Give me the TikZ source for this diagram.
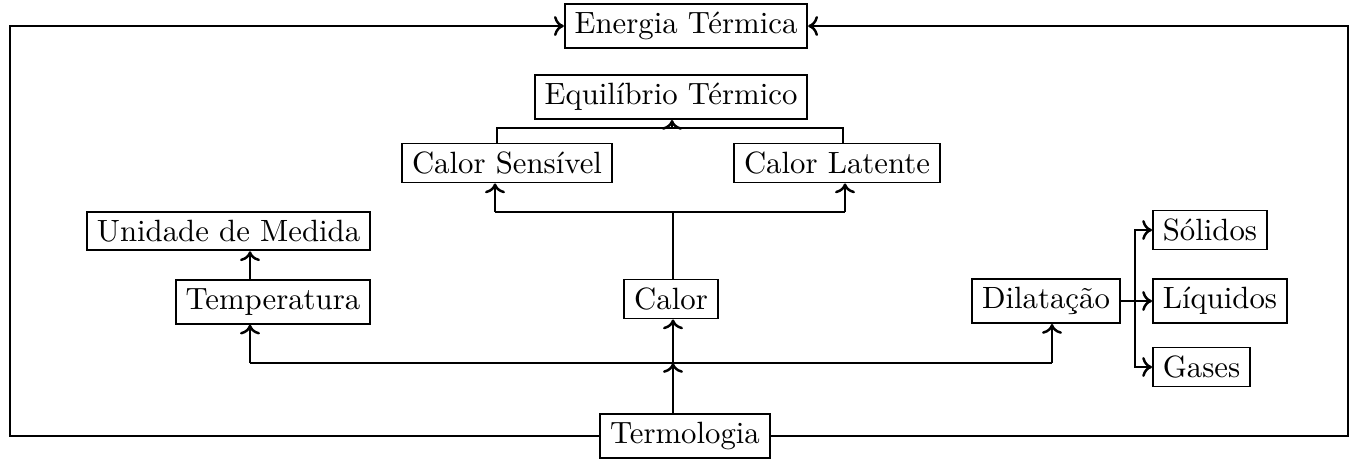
\documentclass[tikz,border=0pt]{standalone}
\usepackage{fontspec}
\usepackage{tikz}
\usetikzlibrary{
	arrows.meta,
	calc,
	positioning
}

\begin{document}
\begin{tikzpicture}[x=0.325pt, y=-0.325pt,
		box/.style={draw, line width=0.6pt, inner xsep=3.2pt, inner ysep=2.7pt},
		link/.style={line width=0.8pt},
		>={To[length=3.2pt, width=6.5pt]}]
		\useasboundingbox (0,0) rectangle (1357,459);
		
		% caixas
		\node[box] (energia) at (686,26) {Energia Térmica};
		\node[box] (equilibrio) at (671,97) {Equilíbrio Térmico};
		\node[box] (sensivel) at (507,163) {Calor Sensível};
		\node[box] (latente) at (837,163) {Calor Latente};
		\node[box, anchor=east] (unidade) at (371,231) {Unidade de Medida};
		\node[box, anchor=east] (temperatura) at (371,302) {Temperatura};
		\node[box] (calor) at (671,299) {Calor};
		\node[box] (dilatacao) at (1046,301) {Dilatação};
		\node[box, anchor=west] (solidos) at (1152,230) {Sólidos};
		\node[box, anchor=west] (liquidos) at (1152,301) {Líquidos};
		\node[box, anchor=west] (gases) at (1152,367) {Gases};
		\node[box] (termologia) at (685,436) {Termologia};
		
		% pontos de ligação
		\coordinate (jT) at (250,363);
		\coordinate (jC) at (673,363);
		\coordinate (jD) at (1052,363);
		\coordinate (aS) at (495,212);
		\coordinate (aL) at (845,212);
		\coordinate (jS) at (673,212);
		\coordinate (bS) at (497,128);
		\coordinate (bL) at (843,128);
		\coordinate (jE) at (672,128);
		\coordinate (jL) at (1135,301);
		\coordinate (cantoA) at (10,0);
		\coordinate (cantoB) at (1348,0);
		
		% Termologia -> Temperatura, Calor, Dilatação
		\draw[link, ->] (termologia.north -| jC) -- (jC);
		\draw[link, ->] (jC) -- (jC |- calor.south);
		\draw[link] (jT) -- (jD);
		\draw[link, ->] (jT) -- (jT |- temperatura.south);
		\draw[link, ->] (jD) -- (jD |- dilatacao.south);
		\draw[link, ->] (jT |- temperatura.north) -- (jT |- unidade.south);
		
		% Calor -> Sensível, Latente -> Equilíbrio
		\draw[link] (calor.north -| jS) -- (jS);
		\draw[link] (aS) -- (aL);
		\draw[link, ->] (aS) -- (aS |- sensivel.south);
		\draw[link, ->] (aL) -- (aL |- latente.south);
		\draw[link] (bS |- sensivel.north) -- (bS) -- (bL) -- (bL |- latente.north);
		\draw[link, ->] (jE) -- (jE |- equilibrio.south);
		
		% Dilatação -> estados
		\draw[link, ->] (dilatacao.east) -- (liquidos.west);
		\draw[link, ->] (jL) |- (solidos.west);
		\draw[link, ->] (jL) |- (gases.west);
		
		% moldura
		\draw[link, ->] (termologia.west) -| (cantoA |- energia.west) -- (energia.west);
		\draw[link, ->] (termologia.east) -| (cantoB |- energia.east) -- (energia.east);
	\end{tikzpicture}
\end{document}
